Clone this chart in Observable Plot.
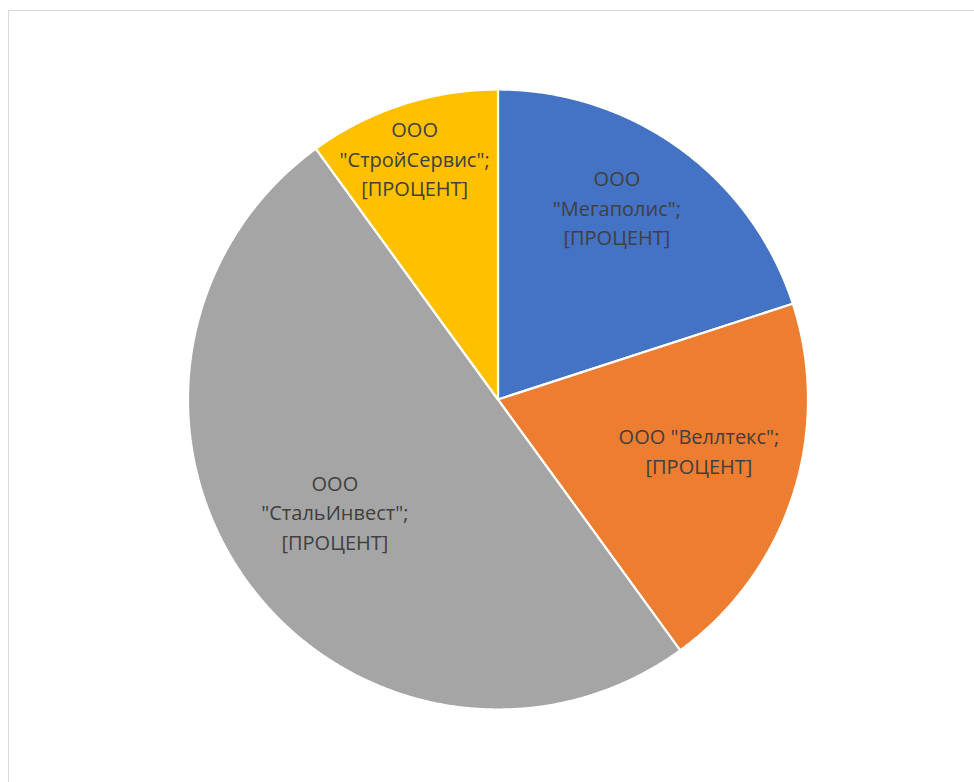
<!DOCTYPE html>
<html>
<head>
<meta charset="utf-8">
<script src="https://cdn.jsdelivr.net/npm/d3@7"></script>
<script src="https://cdn.jsdelivr.net/npm/@observablehq/plot@0.6"></script>
<style>
  html, body { margin: 0; padding: 0; background: #fff; }
  #wrap { position: relative; width: 974px; height: 782px; overflow: hidden; }
  #border { position: absolute; left: 8px; top: 10px; width: 1100px; height: 900px; border: 1px solid #d9d9d9; box-sizing: border-box; }
  #chart { position: absolute; left: 0; top: 0; }
</style>
</head>
<body>
<div id="wrap"><div id="border"></div><div id="chart"></div></div>
<script>
// Data
const companies = ["ООО \"Мегаполис\"", "ООО \"Веллтекс\"", "ООО \"СтальИнвест\"", "ООО \"СтройСервис\""];
const shares = [20, 20, 50, 10];
const labels = [
  "ООО\n\"Мегаполис\";\n[ПРОЦЕНТ]",
  "ООО \"Веллтекс\";\n[ПРОЦЕНТ]",
  "ООО\n\"СтальИнвест\";\n[ПРОЦЕНТ]",
  "ООО\n\"СтройСервис\";\n[ПРОЦЕНТ]"
];
const colors = ["#4472C4", "#ED7D31", "#A5A5A5", "#FFC000"];

// Layout (label placement: radius fraction, angle shift in degrees)
const labelRadius = [0.732, 0.668, 0.637, 0.826];
const labelShift = [-4.4, -4.0, 1.7, -1.0];

const pie = d3.pie().sort(null).value(d => d)(shares);

const slicePts = [];
pie.forEach((p, i) => {
  const name = companies[i];
  slicePts.push({name, x: 0, y: 0});
  const n = Math.max(8, Math.ceil((p.endAngle - p.startAngle) / 0.005));
  for (let k = 0; k <= n; k++) {
    const a = p.startAngle + (p.endAngle - p.startAngle) * k / n;
    slicePts.push({name, x: Math.sin(a), y: Math.cos(a)});
  }
  slicePts.push({name, x: 0, y: 0});
});

const labelData = pie.map((p, i) => {
  const a = (p.startAngle + p.endAngle) / 2 + labelShift[i] * Math.PI / 180;
  return {label: labels[i], x: labelRadius[i] * Math.sin(a), y: labelRadius[i] * Math.cos(a)};
});

const chart = Plot.plot({
  width: 974,
  height: 782,
  marginLeft: 187.5,
  marginRight: 166.5,
  marginTop: 89,
  marginBottom: 73,
  x: {domain: [-1, 1], axis: null},
  y: {domain: [-1, 1], axis: null},
  color: {domain: companies, range: colors},
  style: {fontFamily: "'Open Sans', sans-serif", background: "transparent"},
  marks: [
    Plot.line(slicePts, {x: "x", y: "y", z: "name", fill: "name", stroke: "white", strokeWidth: 2.2, strokeLinejoin: "miter", curve: "linear"}),
    Plot.text(labelData, {x: "x", y: "y", text: "label", fontSize: 20, lineHeight: 1.475, fill: "#404040"})
  ]
});
document.getElementById("chart").appendChild(chart);
</script>
</body>
</html>
